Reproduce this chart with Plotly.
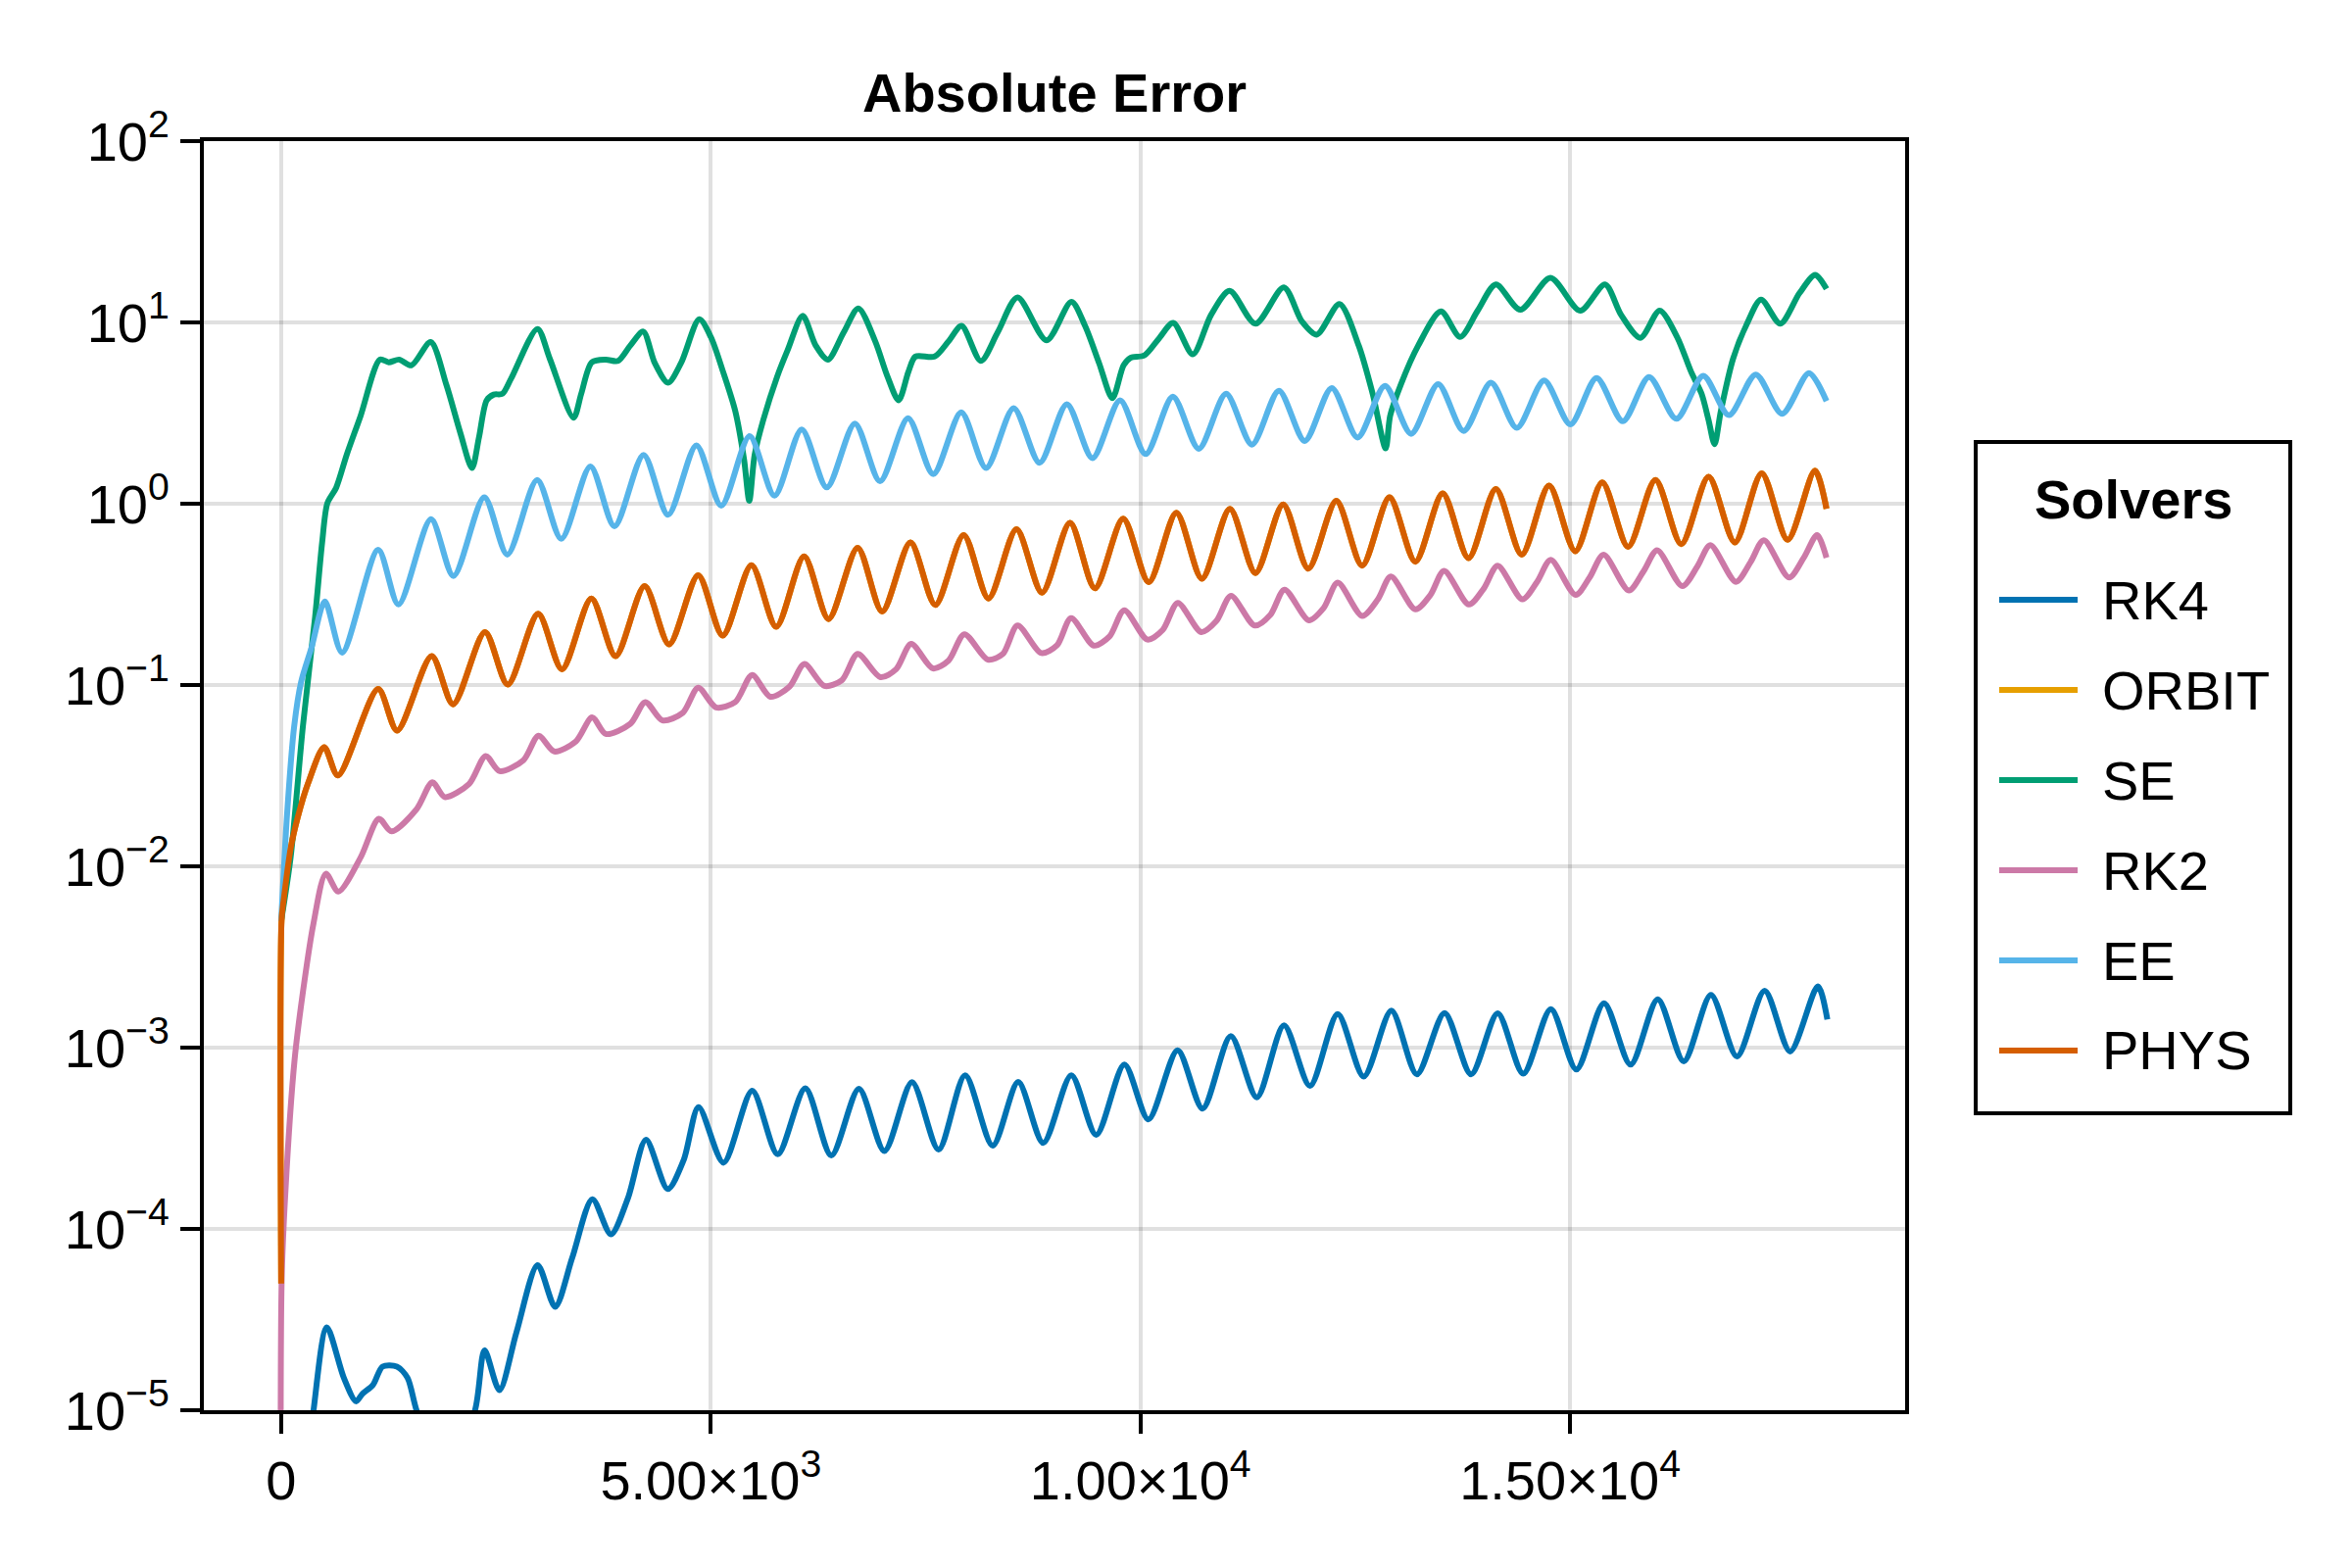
import plotly.graph_objects as go

# ---------------- data ----------------
series_names = ["RK4", "ORBIT", "SE", "RK2", "EE", "PHYS"]
series_colors = ["#0072B2", "#E69F00", "#009E73", "#CC79A7", "#56B4E9", "#D55E00"]

rk4_x = [0, 377, 532, 729, 871, 945, 1069, 1180, 1347, 1470,
         1575, 1900, 2256, 2367, 2540, 2738,
         2985, 3189, 3387, 3622, 3838, 4036,
         4246, 4499, 4685, 4858, 5148,
         5482, 5779, 6100, 6403, 6724, 7021, 7342, 7651, 7960, 8281, 8578, 8869, 9196,
         9486, 9814, 10093, 10433, 10724, 11052, 11355, 11671, 11974, 12296,
         12599, 12921, 13218, 13540, 13849, 14158, 14455, 14777, 15074, 15396,
         15705, 16021, 16324, 16640, 16943, 17265, 17562, 17884, 17995]
rk4_y = [1e-7, 1e-5, 2.86e-5, 1.51e-5, 1.12e-5, 1.23e-5, 1.38e-5, 1.74e-5, 1.74e-5, 1.51e-5,
         1e-5, 4e-6, 1e-5, 2.14e-5, 1.29e-5, 2.69e-5,
         6.31e-5, 3.72e-5, 6.92e-5, 1.459e-4, 9.33e-5, 1.479e-4,
         3.10e-4, 1.66e-4, 2.40e-4, 4.70e-4, 2.32e-4,
         5.78e-4, 2.58e-4, 5.96e-4, 2.54e-4, 5.93e-4, 2.69e-4, 6.44e-4, 2.74e-4, 7.03e-4, 2.88e-4, 6.46e-4, 2.98e-4, 7.03e-4,
         3.30e-4, 8.06e-4, 4.02e-4, 9.67e-4, 4.61e-4, 1.156e-3, 5.32e-4, 1.326e-3, 6.15e-4, 1.533e-3,
         6.92e-4, 1.598e-3, 7.12e-4, 1.552e-3, 7.12e-4, 1.546e-3, 7.18e-4, 1.632e-3, 7.57e-4, 1.758e-3,
         8.06e-4, 1.848e-3, 8.40e-4, 1.95e-3, 8.94e-4, 2.06e-3, 9.52e-4, 2.18e-3, 1.429e-3]

se_x = [0, 110, 253, 395, 477, 538, 640, 762, 925,
        1149, 1251, 1373, 1516, 1740,
        1923, 2086, 2221, 2302, 2392, 2474, 2575, 2677,
        2983, 3126, 3403, 3492, 3615, 3777, 3920, 4063,
        4214, 4348, 4503, 4654, 4866,
        5000, 5143, 5285, 5387, 5448, 5510, 5611, 5774,
        5895, 6070, 6221, 6363, 6546, 6717,
        6913, 7055, 7186, 7300, 7381, 7605, 7768, 7919,
        8143, 8338, 8570, 8908, 9197,
        9356, 9519, 9674, 9804, 9885, 10048, 10211, 10382,
        10610, 10822, 11038, 11339, 11669, 11881,
        12052, 12317, 12541, 12703, 12854, 12907, 13029, 13233, 13497,
        13721, 13925, 14137, 14422, 14772, 15118, 15407,
        15595, 15819, 16043, 16246, 16409, 16531, 16612, 16682, 16755,
        16898, 17060, 17223, 17447, 17671, 17854, 17985]
se_y = [0.005, 0.0112, 0.0593, 0.2376, 0.612, 1.008, 1.225, 1.858, 3.06,
        6.24, 6.03, 6.24, 5.80, 7.79,
        4.52, 2.45, 1.573, 2.32, 3.72, 4.0, 4.04, 4.91,
        9.20, 6.31, 2.98, 4.04, 6.03, 6.24, 6.13, 7.45,
        8.90, 5.97, 4.65, 5.97, 10.4,
        8.32, 5.34, 3.24, 1.757, 1.037, 1.858, 2.90, 5.05,
        7.05, 10.87, 7.45, 6.24, 8.80, 11.94,
        7.88, 5.05, 3.72, 5.34, 6.48, 6.48, 7.88, 9.57,
        6.13, 8.80, 13.73, 7.96, 12.98,
        9.57, 5.97, 3.82, 5.80, 6.38, 6.59, 8.10, 9.94,
        6.67, 11.0, 14.92, 9.84, 15.6, 10.1,
        8.56, 12.63, 7.45, 4.04, 2.02, 3.06, 4.52, 7.45, 11.49,
        8.32, 11.61, 16.2, 11.75, 17.6, 11.61, 16.2,
        11.0, 8.23, 11.61, 8.32, 5.34, 4.04, 2.90, 2.13, 3.24,
        6.31, 9.84, 13.35, 9.84, 14.51, 18.3, 15.3]

rk2_x = [0, 5, 48, 157, 266, 375,
         520, 666, 925, 1137, 1284, 1577, 1760, 1903, 2188, 2380, 2543, 2820,
         2995, 3179, 3431, 3619, 3778, 4063, 4238, 4438, 4674, 4853, 5061, 5285,
         5481, 5693, 5915, 6090, 6322, 6526, 6709, 6974, 7157, 7332, 7585, 7768,
         7951, 8224, 8399, 8570, 8847, 9030, 9193, 9458, 9641, 9812, 10081, 10260,
         10435, 10708, 10883, 11054, 11331, 11514, 11677, 11962, 12133,
         12296, 12581, 12764, 12915, 13200, 13375, 13534, 13823, 13998,
         14157, 14446, 14617, 14776, 15065, 15228, 15391, 15684, 15859,
         16014, 16307, 16482, 16633, 16930, 17101, 17256, 17549, 17720, 17875, 17985]
rk2_y = [1e-7, 5e-5, 1.56e-4, 8.65e-4, 0.00224, 0.00481,
         0.0091, 0.00726, 0.0112, 0.0183, 0.0156, 0.0207, 0.0291, 0.0241, 0.0285, 0.0406, 0.0335, 0.0385,
         0.0525, 0.043, 0.0489, 0.0663, 0.0537, 0.061, 0.0805, 0.0638, 0.0702, 0.0967, 0.0753, 0.0805,
         0.1136, 0.0861, 0.0978, 0.1305, 0.0989, 0.1063, 0.1483, 0.1105, 0.1222, 0.1686, 0.1235, 0.1365,
         0.1905, 0.138, 0.1483, 0.2129, 0.15, 0.1658, 0.2339, 0.1649, 0.1853, 0.2585, 0.1782, 0.2014,
         0.284, 0.196, 0.225, 0.3105, 0.2129, 0.2445, 0.3357, 0.2275, 0.266,
         0.367, 0.2405, 0.297, 0.3965, 0.2615, 0.314, 0.4263, 0.278, 0.3413,
         0.4557, 0.2971, 0.371, 0.49, 0.314, 0.392, 0.5236, 0.332, 0.4263,
         0.5534, 0.351, 0.4506, 0.5916, 0.371, 0.4764, 0.629, 0.392, 0.5035, 0.672, 0.5035]

ee_x = [0, 69, 151, 232, 355, 509, 709,
        1129, 1365, 1744, 2005, 2364, 2632, 2979, 3260, 3599, 3879, 4218, 4503, 4833, 5122, 5452, 5742,
        6058, 6351, 6677, 6970, 7296, 7589, 7915, 8204, 8525, 8827, 9144, 9442, 9763, 10061,
        10378, 10679, 10997, 11298, 11612, 11913,
        12227, 12528, 12846, 13151, 13465, 13762, 14080, 14381, 14699, 15004,
        15309, 15615, 15920, 16238, 16551, 16849, 17162, 17468, 17781, 17985]
ee_y = [0.005, 0.0195, 0.059, 0.104, 0.162, 0.289, 0.151,
        0.557, 0.278, 0.821, 0.399, 1.084, 0.524, 1.354, 0.640, 1.607, 0.751, 1.858, 0.868, 2.10, 0.975, 2.36, 1.108,
        2.57, 1.23, 2.77, 1.33, 2.96, 1.455, 3.19, 1.573, 3.37, 1.681, 3.54, 1.786, 3.72, 1.879,
        3.89, 2.01, 4.04, 2.12, 4.20, 2.22,
        4.35, 2.32, 4.47, 2.43, 4.57, 2.52, 4.65, 2.62, 4.78, 2.74,
        4.94, 2.85, 4.99, 2.94, 5.08, 3.08, 5.16, 3.13, 5.25, 3.68]

phys_x = [0, 5, 29, 110, 191, 314, 501, 660,
          1129, 1349, 1752, 2001, 2372, 2637, 2991, 3268, 3610, 3892, 4230, 4515, 4853, 5139, 5473, 5762,
          6086, 6371, 6709, 6994, 7324, 7613, 7943, 8232, 8558, 8855, 9181, 9470, 9800, 10097,
          10419, 10716, 11042, 11339, 11661, 11954,
          12280, 12581, 12899, 13200, 13518, 13819, 14137, 14438, 14756, 15061,
          15375, 15676, 15994, 16295, 16613, 16918, 17231, 17533, 17850, 17985]
phys_y = [5e-5, 0.0051, 0.0065, 0.0125, 0.0185, 0.0288, 0.0454, 0.0317,
          0.0951, 0.0561, 0.1443, 0.0783, 0.196, 0.1006, 0.247, 0.1222, 0.300, 0.1443, 0.351, 0.1677, 0.4034, 0.1873, 0.458, 0.2094,
          0.512, 0.2313, 0.572, 0.2542, 0.612, 0.2764, 0.672, 0.300, 0.723, 0.323, 0.785, 0.3413, 0.826, 0.369,
          0.892, 0.386, 0.938, 0.4147, 0.992, 0.4385,
          1.037, 0.4557, 1.084, 0.479, 1.139, 0.5006, 1.204, 0.5236, 1.259, 0.547,
          1.309, 0.5785, 1.354, 0.598, 1.407, 0.612, 1.471, 0.6324, 1.521, 0.938]

# ORBIT is not visible in the reference: it lies exactly under PHYS
orbit_x = list(phys_x)
orbit_y = list(phys_y)

x_tick_vals = [0, 5000, 10000, 15000]
x_tick_text = ["0", "5.00×10<sup>3</sup>", "1.00×10<sup>4</sup>", "1.50×10<sup>4</sup>"]
y_tick_vals = [1e-5, 1e-4, 1e-3, 1e-2, 1e-1, 1e0, 1e1, 1e2]
y_tick_text = ["10<sup>−5</sup>", "10<sup>−4</sup>", "10<sup>−3</sup>", "10<sup>−2</sup>",
               "10<sup>−1</sup>", "10<sup>0</sup>", "10<sup>1</sup>", "10<sup>2</sup>"]

title_text = "Absolute Error"
legend_title = "Solvers"

# ---------------- figure ----------------
series_x = [rk4_x, orbit_x, se_x, rk2_x, ee_x, phys_x]
series_y = [rk4_y, orbit_y, se_y, rk2_y, ee_y, phys_y]
for sx, sy in zip(series_x, series_y):
    assert len(sx) == len(sy), (len(sx), len(sy))

FONT = "Liberation Sans, Arial, Helvetica, sans-serif"

fig = go.Figure()
for name, color, sx, sy in zip(series_names, series_colors, series_x, series_y):
    fig.add_trace(go.Scatter(
        x=sx, y=sy, name=name, mode="lines",
        line=dict(color=color, width=6, shape="spline", smoothing=0.8),
        showlegend=False,
    ))

axis_common = dict(
    showline=True, linecolor="black", linewidth=4, mirror=True,
    ticks="outside", ticklen=20, tickwidth=4, tickcolor="black",
    showgrid=True, gridcolor="rgba(0,0,0,0.12)", gridwidth=4,
    zeroline=False,
    tickfont=dict(family=FONT, size=56, color="black"),
)

# ---- legend box (drawn with shapes/annotations in paper coordinates) ----
LEG_X0, LEG_X1 = 1.0415, 1.2264
LEG_Y0, LEG_Y1 = 0.2340, 0.7629
LINE_X0, LINE_X1 = 1.0553, 1.1014
TEXT_X = 1.1146
FIRST_Y, STEP_Y = 0.6386, 0.07104

shapes = [dict(type="rect", xref="paper", yref="paper",
               x0=LEG_X0, x1=LEG_X1, y0=LEG_Y0, y1=LEG_Y1,
               line=dict(color="black", width=4), fillcolor="white", layer="above")]
annotations = [dict(text="<b>" + legend_title + "</b>", xref="paper", yref="paper",
                    x=(LEG_X0 + LEG_X1) / 2, y=0.7176, xanchor="center", yanchor="middle",
                    showarrow=False, font=dict(family=FONT, size=56, color="black"))]
for i, (name, color) in enumerate(zip(series_names, series_colors)):
    yy = FIRST_Y - i * STEP_Y
    shapes.append(dict(type="line", xref="paper", yref="paper",
                       x0=LINE_X0, x1=LINE_X1, y0=yy, y1=yy,
                       line=dict(color=color, width=6), layer="above"))
    annotations.append(dict(text=name, xref="paper", yref="paper",
                            x=TEXT_X, y=yy, xanchor="left", yanchor="middle",
                            showarrow=False, font=dict(family=FONT, size=56, color="black")))

fig.update_layout(
    width=2392, height=1592,
    margin=dict(l=200, r=456, t=136, b=161),
    paper_bgcolor="white", plot_bgcolor="white",
    font=dict(family=FONT, size=56, color="black"),
    title=dict(text="<b>" + title_text + "</b>", x=0.5, xref="paper", xanchor="center",
               y=1, yref="paper", yanchor="bottom", pad=dict(b=30),
               font=dict(family=FONT, size=56, color="black")),
    xaxis=dict(range=[-900, 18900], tickvals=x_tick_vals, ticktext=x_tick_text,
               ticklabelstandoff=0, **axis_common),
    yaxis=dict(type="log", range=[-5, 2], tickvals=y_tick_vals, ticktext=y_tick_text,
               ticklabelstandoff=0, **axis_common),
    shapes=shapes,
    annotations=annotations,
    showlegend=False,
)

fig.write_html("out.html")
